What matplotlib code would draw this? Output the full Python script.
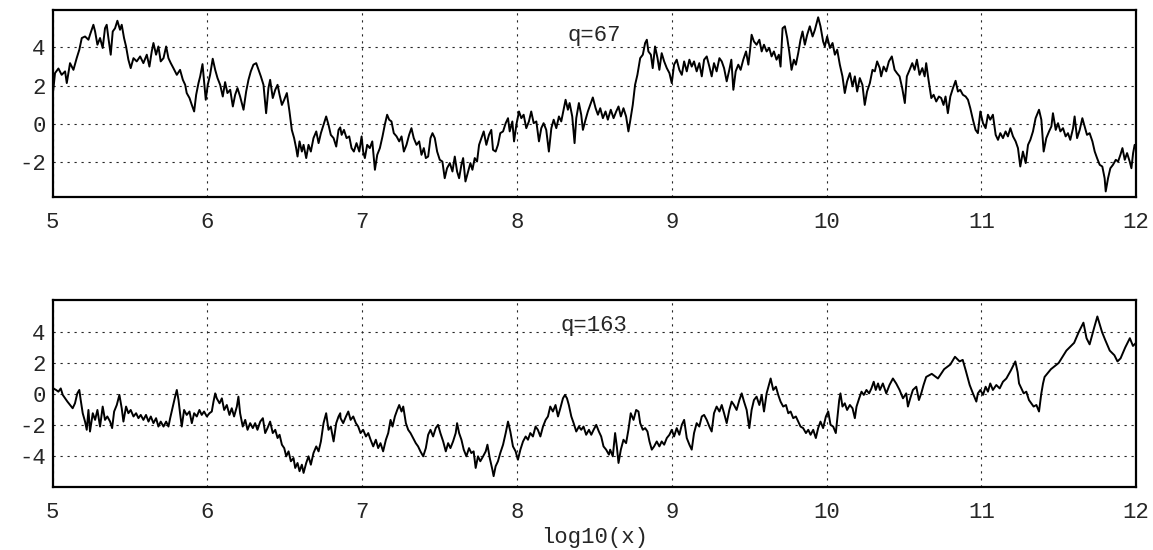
import matplotlib
matplotlib.use("Agg")
import matplotlib.pyplot as plt

# values, x in log10(x), y as plotted
top_x = [
    5.004, 5.015, 5.037, 5.058, 5.080, 5.091, 5.112, 5.134, 5.155, 5.172,
    5.188, 5.209, 5.231, 5.241, 5.263, 5.274, 5.289, 5.306, 5.323, 5.338,
    5.349, 5.360, 5.375, 5.388, 5.403, 5.418, 5.435, 5.446, 5.461, 5.474,
    5.489, 5.504, 5.522, 5.543, 5.565, 5.586, 5.608, 5.625, 5.640, 5.651,
    5.668, 5.683, 5.698, 5.716, 5.733, 5.748, 5.763, 5.780, 5.802, 5.823,
    5.841, 5.856, 5.866, 5.884, 5.899, 5.914, 5.927, 5.942, 5.953, 5.968,
    5.978, 5.989, 6.002, 6.017, 6.034, 6.050, 6.065, 6.082, 6.099, 6.114,
    6.129, 6.147, 6.164, 6.179, 6.194, 6.211, 6.233, 6.250, 6.265, 6.280,
    6.297, 6.315, 6.330, 6.345, 6.362, 6.379, 6.394, 6.405, 6.422, 6.438,
    6.453, 6.466, 6.481, 6.496, 6.513, 6.530, 6.545, 6.560, 6.573, 6.582,
    6.595, 6.610, 6.621, 6.638, 6.653, 6.668, 6.685, 6.703, 6.718, 6.733,
    6.750, 6.767, 6.782, 6.797, 6.815, 6.832, 6.847, 6.858,
    6.867, 6.882, 6.899, 6.916, 6.931, 6.946, 6.963, 6.981, 6.996, 7.006,
    7.017, 7.032, 7.049, 7.065, 7.082, 7.097, 7.114, 7.131, 7.146, 7.161,
    7.174, 7.189, 7.204, 7.222, 7.239, 7.254, 7.269, 7.286, 7.303, 7.318,
    7.333, 7.351, 7.368, 7.383, 7.398, 7.411, 7.426, 7.441, 7.454, 7.469,
    7.484, 7.501, 7.518, 7.533, 7.548, 7.566, 7.583, 7.598, 7.613, 7.626,
    7.641, 7.652, 7.667, 7.684, 7.699, 7.712, 7.727, 7.742, 7.755, 7.770,
    7.785, 7.802, 7.819, 7.834, 7.845, 7.862, 7.877, 7.892, 7.910, 7.927,
    7.942, 7.953, 7.970, 7.981, 7.996, 8.013, 8.028, 8.043, 8.060, 8.077,
    8.092, 8.108, 8.125, 8.142, 8.157, 8.172, 8.189, 8.206, 8.222, 8.237,
    8.254, 8.271, 8.286, 8.303, 8.314, 8.329, 8.340, 8.357, 8.372, 8.383,
    8.400, 8.415, 8.426, 8.443, 8.458, 8.473, 8.490, 8.508, 8.523, 8.538,
    8.555, 8.572, 8.587,
    8.606, 8.624, 8.641, 8.656, 8.671, 8.688, 8.705, 8.720, 8.731, 8.748,
    8.763, 8.778, 8.796, 8.813, 8.828, 8.839, 8.849, 8.865, 8.877, 8.892,
    8.908, 8.920, 8.935, 8.951, 8.968, 8.985, 9.000, 9.015, 9.032, 9.049,
    9.065, 9.080, 9.097, 9.114, 9.129, 9.144, 9.161, 9.178, 9.194, 9.209,
    9.226, 9.243, 9.258, 9.273, 9.290, 9.308, 9.323, 9.338, 9.355, 9.372,
    9.385, 9.398, 9.413, 9.430, 9.445, 9.462, 9.480, 9.495, 9.505, 9.516,
    9.531, 9.548, 9.566, 9.581, 9.596, 9.613, 9.630, 9.645, 9.660, 9.677,
    9.692, 9.703, 9.716, 9.731, 9.746, 9.759, 9.774, 9.789, 9.802, 9.817,
    9.832, 9.845, 9.860, 9.875, 9.892, 9.910, 9.925, 9.946, 9.961, 9.978,
    9.989, 10.004, 10.022, 10.039, 10.054, 10.069, 10.086, 10.103, 10.118, 10.133,
    10.151, 10.168, 10.183, 10.198, 10.215, 10.232, 10.247, 10.262, 10.280, 10.297,
    10.312, 10.327, 10.344,
    10.353, 10.369, 10.386, 10.403, 10.422, 10.440, 10.455, 10.472, 10.489, 10.506,
    10.519, 10.537, 10.554, 10.569, 10.584, 10.601, 10.619, 10.634, 10.644, 10.659,
    10.677, 10.692, 10.709, 10.726, 10.741, 10.756, 10.769, 10.784, 10.800, 10.817,
    10.834, 10.849, 10.864, 10.881, 10.899, 10.914, 10.929, 10.946, 10.963, 10.978,
    10.994, 11.011, 11.028, 11.043, 11.058, 11.075, 11.093, 11.108, 11.123, 11.140,
    11.157, 11.172, 11.188, 11.205, 11.222, 11.237, 11.252, 11.269, 11.287, 11.302,
    11.317, 11.334, 11.351, 11.373, 11.388, 11.403, 11.420, 11.438, 11.453, 11.463,
    11.481, 11.496, 11.511, 11.528, 11.545, 11.560, 11.575, 11.593, 11.603, 11.619,
    11.636, 11.653, 11.668, 11.683, 11.700, 11.718, 11.733, 11.748, 11.765, 11.782,
    11.797, 11.804, 11.819, 11.834, 11.851, 11.869, 11.884, 11.899, 11.912, 11.927,
    11.942, 11.959, 11.970, 11.981, 11.991, 11.998,
]
top_y = [
    1.80, 2.66, 2.90, 2.57, 2.75, 2.14, 3.18, 2.83, 3.44, 3.88,
    4.49, 4.57, 4.40, 4.66, 5.18, 4.83, 4.14, 4.49, 3.97, 5.00,
    5.18, 4.49, 3.62, 4.83, 5.00, 5.39, 4.92, 5.18, 4.49, 4.05,
    3.36, 2.92, 3.44, 3.27, 3.53, 3.18, 3.62, 3.00, 3.79, 4.23,
    3.62, 4.05, 3.27, 3.44, 4.05, 3.44, 3.18, 2.92, 2.57, 2.83,
    2.31, 2.05, 1.62, 1.36, 1.00, 0.66, 1.53, 2.14, 2.49, 3.13,
    2.23, 1.27, 2.05, 2.57, 3.41, 2.83, 2.40, 2.05, 1.44, 2.19,
    1.62, 1.79, 0.92, 1.53, 1.88, 1.44, 0.75, 1.70, 2.31, 2.75,
    3.10, 3.18, 2.83, 2.49, 2.05, 0.57, 1.88, 2.31, 1.36, 1.79,
    2.05, 1.53, 1.00, 1.27, 1.62, 0.66, -0.30, -0.73, -1.25, -1.69,
    -0.90, -1.43, -1.08, -1.77, -1.08, -1.43, -0.73, -0.38, -0.99, -0.47,
    -0.03, 0.40, -0.03, -0.56, -0.73, -1.17, -0.30, -0.17,
    -0.56, -0.30, -0.73, -0.64, -1.25, -1.43, -0.99, -1.43, -0.64, -1.43,
    -1.77, -1.08, -1.25, -0.90, -2.38, -1.60, -1.25, -0.64, -0.03, 0.49,
    0.23, 0.14, -0.47, -0.64, -0.90, -0.64, -1.43, -1.08, -0.56, -0.21,
    -0.73, -1.08, -0.90, -1.60, -1.25, -1.77, -1.69, -0.73, -0.47, -0.73,
    -1.43, -1.86, -1.95, -2.82, -2.30, -2.03, -2.47, -1.69, -2.47, -2.82,
    -2.12, -1.77, -2.99, -2.47, -2.03, -2.38, -1.77, -1.95, -1.08, -0.73,
    -0.38, -1.08, -0.56, -0.30, -1.34, -1.43, -1.08, -0.47, -0.38, 0.05,
    0.31, -0.38, 0.14, -0.90, -0.03, 0.66, 0.31, 0.49, -0.21, 0.14,
    0.66, 0.05, 0.14, -0.90, -0.21, 0.05, -0.30, -1.43, -0.21, 0.23,
    -0.21, 0.40, 0.14, 0.83, 1.27, 0.75, 1.10, 0.40, -0.99, 0.31,
    1.10, 0.49, -0.30, 0.23, 0.66, 1.00, 1.39, 0.83, 0.49, 0.83,
    0.31, 0.66, 0.23,
    0.75, 0.31, 0.66, 0.92, 0.40, 0.83, 0.40, -0.38, 0.14, 1.00,
    2.05, 2.57, 3.44, 3.62, 4.23, 4.40, 3.79, 3.62, 2.92, 4.05,
    3.44, 2.83, 3.70, 3.27, 2.92, 2.66, 2.14, 3.10, 3.36, 2.83,
    2.57, 3.27, 2.75, 3.36, 3.00, 3.27, 2.75, 3.18, 2.49, 3.36,
    3.53, 3.00, 2.49, 3.18, 2.75, 3.44, 3.27, 2.92, 2.23, 2.83,
    3.36, 1.79, 2.75, 3.10, 2.83, 3.36, 3.79, 3.10, 3.79, 4.66,
    4.31, 4.14, 4.40, 3.79, 4.14, 3.79, 3.97, 3.53, 3.79, 3.36,
    3.62, 3.00, 5.00, 5.10, 4.49, 3.79, 2.83, 3.36, 3.10, 3.70,
    4.40, 4.83, 4.14, 4.66, 5.10, 4.57, 4.92, 5.57, 5.10, 4.31,
    4.05, 4.57, 3.97, 4.23, 3.62, 3.88, 3.10, 2.49, 1.62, 2.23,
    2.66, 1.97, 2.49, 1.70, 2.40, 2.05, 1.00, 1.70, 2.14, 2.83,
    2.75, 3.27, 2.92,
    2.49, 3.00, 2.75, 3.27, 3.53, 2.83, 2.66, 2.49, 1.88, 1.10,
    2.49, 2.83, 3.18, 2.83, 3.36, 2.57, 2.92, 2.49, 3.18, 2.31,
    1.36, 1.53, 1.18, 1.44, 1.36, 1.00, 1.44, 0.57, 1.44, 1.88,
    2.26, 1.70, 1.79, 1.53, 1.44, 1.27, 0.83, 0.23, -0.30, -0.47,
    0.66, 0.05, -0.21, 0.49, 0.23, 0.49, -0.56, -0.82, -0.47, -0.73,
    -0.38, -0.64, -0.21, -0.64, -0.90, -1.25, -2.21, -1.43, -2.03, -1.08,
    -0.82, -0.38, 0.31, 0.75, 0.23, -1.43, -0.73, -0.38, -0.12, 0.57,
    -0.30, 0.05, -0.38, -0.21, -0.64, -0.47, -0.82, -0.21, 0.40, -0.73,
    -0.30, 0.31, -0.12, -0.56, -0.47, -0.90, -1.43, -1.77, -2.12, -2.21,
    -2.82, -3.51, -2.82, -2.30, -2.12, -1.86, -1.95, -1.60, -1.25, -1.86,
    -1.51, -1.95, -2.30, -1.51, -1.08, -1.17,
]

bottom_x = [
    5.004, 5.022, 5.037, 5.052, 5.065, 5.080, 5.095, 5.112, 5.129, 5.144,
    5.159, 5.172, 5.181, 5.194, 5.209, 5.220, 5.231, 5.241, 5.259, 5.274,
    5.289, 5.306, 5.323, 5.338, 5.353, 5.371, 5.384, 5.397, 5.414, 5.431,
    5.446, 5.457, 5.474, 5.489, 5.504, 5.522, 5.539, 5.554, 5.569, 5.586,
    5.603, 5.619, 5.634, 5.651, 5.668, 5.683, 5.698, 5.716, 5.733, 5.748,
    5.759, 5.776, 5.791, 5.802, 5.813, 5.823, 5.834, 5.849, 5.866, 5.884,
    5.899, 5.914, 5.931, 5.948, 5.963, 5.978, 5.996, 6.013, 6.028, 6.039,
    6.050, 6.060, 6.078, 6.093, 6.108, 6.125, 6.142, 6.157, 6.172, 6.190,
    6.200, 6.211, 6.228, 6.244, 6.259, 6.276, 6.293, 6.308, 6.323, 6.341,
    6.358, 6.373, 6.388, 6.405, 6.422, 6.438, 6.453, 6.466, 6.481, 6.496,
    6.509, 6.524, 6.539, 6.556, 6.567, 6.582, 6.595, 6.610, 6.621, 6.638,
    6.653, 6.668, 6.685, 6.703, 6.718, 6.733, 6.750, 6.767, 6.782, 6.797,
    6.815, 6.832, 6.847, 6.858,
    6.860, 6.877, 6.895, 6.910, 6.925, 6.942, 6.959, 6.974, 6.989, 7.006,
    7.024, 7.039, 7.054, 7.071, 7.088, 7.103, 7.118, 7.135, 7.153, 7.168,
    7.183, 7.196, 7.211, 7.226, 7.239, 7.254, 7.265, 7.282, 7.297, 7.312,
    7.329, 7.346, 7.361, 7.376, 7.394, 7.411, 7.426, 7.441, 7.458, 7.475,
    7.490, 7.505, 7.523, 7.540, 7.555, 7.570, 7.587, 7.604, 7.613, 7.626,
    7.641, 7.656, 7.673, 7.690, 7.705, 7.720, 7.733, 7.748, 7.763, 7.781,
    7.798, 7.809, 7.824, 7.841, 7.849, 7.862, 7.877, 7.892, 7.910, 7.927,
    7.942, 7.957, 7.974, 7.991, 8.006, 8.022, 8.039, 8.056, 8.071, 8.086,
    8.103, 8.120, 8.135, 8.151, 8.168, 8.185, 8.200, 8.215, 8.232, 8.249,
    8.265, 8.280, 8.297, 8.310, 8.323, 8.335, 8.351, 8.366, 8.383, 8.400,
    8.415, 8.430, 8.447, 8.465, 8.480, 8.495, 8.512, 8.529, 8.544, 8.559,
    8.576, 8.594,
    8.602, 8.619, 8.634, 8.645, 8.656, 8.671, 8.688, 8.705, 8.720, 8.735,
    8.753, 8.770, 8.785, 8.796, 8.813, 8.828, 8.843, 8.856, 8.871, 8.886,
    8.903, 8.920, 8.935, 8.951, 8.968, 8.985, 9.000, 9.015, 9.032, 9.049,
    9.065, 9.080, 9.097, 9.114, 9.129, 9.144, 9.161, 9.178, 9.194, 9.209,
    9.226, 9.243, 9.258, 9.273, 9.290, 9.308, 9.323, 9.338, 9.355, 9.372,
    9.387, 9.402, 9.419, 9.437, 9.452, 9.467, 9.484, 9.501, 9.516, 9.531,
    9.548, 9.566, 9.581, 9.596, 9.613, 9.630, 9.639, 9.656, 9.673, 9.688,
    9.703, 9.720, 9.738, 9.753, 9.768, 9.785, 9.802, 9.817, 9.832, 9.849,
    9.867, 9.882, 9.897, 9.914, 9.931, 9.946, 9.961, 9.978, 9.996, 10.011,
    10.026, 10.043, 10.060, 10.069, 10.082, 10.090, 10.103, 10.118, 10.133, 10.151,
    10.168, 10.183, 10.194, 10.211, 10.226, 10.241, 10.258, 10.275, 10.290, 10.305,
    10.318, 10.333,
    10.345, 10.364, 10.386, 10.407, 10.429, 10.450, 10.472, 10.494, 10.515, 10.526,
    10.541, 10.558, 10.580, 10.597, 10.612, 10.627, 10.644,
    10.680, 10.720, 10.760, 10.800, 10.830, 10.860, 10.880, 10.900,
    10.925, 10.946, 10.968, 10.978, 10.994, 11.011, 11.028, 11.043, 11.058, 11.075,
    11.097, 11.119, 11.140, 11.162,
    11.190, 11.220, 11.235,
    11.244, 11.259, 11.274, 11.291, 11.308, 11.323, 11.338, 11.356, 11.373, 11.388,
    11.399, 11.409,
    11.450, 11.500, 11.550, 11.600, 11.630, 11.660, 11.680, 11.700, 11.730, 11.750,
    11.780, 11.800, 11.830, 11.860, 11.880, 11.900, 11.930, 11.960, 11.980, 12.000,
]
bottom_y = [
    0.36, 0.26, 0.15, 0.36, -0.06, -0.28, -0.49, -0.71, -0.92, -0.60,
    0.04, 0.26, -0.39, -1.24, -1.78, -2.31, -1.03, -2.42, -1.24, -1.67,
    -1.03, -2.10, -0.81, -1.67, -1.45, -1.78, -2.20, -1.13, -0.71, -0.06,
    -0.92, -1.78, -0.81, -1.24, -1.03, -1.45, -1.24, -1.56, -1.35, -1.67,
    -1.35, -1.78, -1.45, -1.88, -1.56, -2.10, -1.78, -2.10, -1.78, -2.10,
    -1.56, -0.81, -0.17, 0.26, -0.39, -1.24, -2.10, -1.03, -1.35, -1.13,
    -1.88, -1.24, -1.45, -1.03, -1.35, -1.13, -1.45, -1.24, -1.13, -0.49,
    0.04, -0.28, -0.60, -0.28, -1.03, -0.71, -1.35, -0.92, -1.45, -0.81,
    -0.17, -1.24, -2.10, -1.67, -2.31, -1.88, -2.20, -1.88, -2.31, -1.78,
    -1.56, -2.52, -2.20, -1.78, -2.52, -2.31, -2.84, -2.63, -3.27, -3.49,
    -4.02, -3.70, -4.34, -4.13, -4.77, -4.45, -4.98, -4.56, -5.09, -4.45,
    -4.02, -4.56, -3.81, -3.38, -3.70, -3.06, -1.88, -1.24, -2.31, -2.10,
    -3.06, -1.88, -1.45, -1.24,
    -1.56, -1.88, -1.45, -1.13, -1.67, -1.45, -1.88, -2.10, -2.52, -2.31,
    -2.74, -2.52, -2.95, -3.38, -2.95, -3.49, -3.17, -3.70, -2.95, -2.52,
    -1.67, -2.10, -1.45, -1.03, -0.71, -1.13, -0.81, -1.88, -2.31, -2.52,
    -2.84, -3.17, -3.38, -3.70, -4.02, -3.49, -2.63, -2.31, -2.74, -2.20,
    -1.99, -2.52, -3.06, -3.70, -3.17, -3.49, -3.06, -2.52, -1.88, -2.52,
    -2.95, -3.59, -4.02, -3.49, -3.81, -3.70, -4.77, -4.02, -4.34, -4.02,
    -3.70, -3.27, -4.13, -4.88, -5.30, -4.66, -4.34, -3.81, -3.27, -2.52,
    -1.78, -2.42, -3.38, -3.70, -4.24, -3.59, -3.06, -2.74, -2.95, -2.52,
    -2.74, -2.10, -2.31, -2.74, -2.10, -1.67, -1.45, -0.81, -1.13, -0.71,
    -1.45, -0.92, -0.28, -0.06, -0.28, -0.71, -1.45, -1.88, -2.42, -2.10,
    -2.31, -2.10, -2.63, -2.31, -2.63, -2.31, -1.99, -2.42, -2.74, -3.38,
    -3.59, -3.91,
    -3.59, -4.02, -2.52, -3.38, -4.45, -3.59, -2.95, -3.17, -2.31, -1.24,
    -1.67, -1.03, -1.13, -1.88, -2.31, -2.20, -2.42, -3.06, -3.59, -3.38,
    -3.06, -3.38, -3.06, -3.27, -2.84, -2.63, -2.31, -2.74, -2.20, -2.63,
    -1.99, -1.67, -2.84, -3.27, -3.59, -2.52, -1.88, -2.10, -1.45, -1.35,
    -1.67, -2.10, -2.42, -1.24, -0.81, -1.13, -0.71, -1.24, -1.88, -1.03,
    -0.49, -0.71, -1.03, -0.39, 0.04, -0.49, -1.03, -2.20, -1.03, -0.39,
    -0.17, -0.71, -0.06, -1.13, 0.04, 0.68, 1.00, 0.26, 0.47, -0.06,
    -0.49, -0.81, -0.71, -1.24, -1.13, -1.56, -1.45, -1.78, -2.10, -2.20,
    -2.52, -2.31, -2.63, -2.31, -2.84, -2.20, -1.78, -2.20, -1.45, -1.13,
    -1.99, -2.10, -2.52, -1.67, -0.39, 0.04, -0.81, -0.60, -1.03, -0.71,
    -0.92, -1.56, -0.81, -0.28, 0.15, -0.06, 0.26, 0.04, 0.36, 0.79,
    0.26, 0.68,
    0.26, 0.68, 0.04, 0.58, 1.00, 0.68, 0.26, -0.28, 0.04, -0.81,
    -0.28, 0.26, 0.47, -0.39, 0.04, 0.58, 1.10,
    1.30, 1.00, 1.60, 1.90, 2.40, 2.10, 2.20, 1.50,
    0.58, 0.04, -0.49, 0.04, 0.26, -0.06, 0.47, 0.15, 0.68, 0.26,
    0.58, 0.36, 0.79, 1.00,
    1.50, 2.10, 1.40,
    0.68, 0.36, 0.04, 0.15, -0.39, -0.60, -0.81, -0.71, -1.13, 0.04,
    0.68, 1.10,
    1.60, 2.00, 2.80, 3.30, 4.00, 4.60, 3.60, 3.20, 4.30, 5.00,
    4.00, 3.50, 2.80, 2.50, 2.10, 2.30, 3.00, 3.60, 3.10, 3.30,
]

panels = [
    (top_x, top_y, "q=67", [-2, 0, 2, 4], (-3.8, 5.95)),
    (bottom_x, bottom_y, "q=163", [-4, -2, 0, 2, 4], (-6.0, 6.06)),
]
x_ticks = [5, 6, 7, 8, 9, 10, 11, 12]

plt.rcParams["font.family"] = ["Liberation Mono", "DejaVu Sans Mono"]
plt.rcParams["font.size"] = 16
plt.rcParams["axes.unicode_minus"] = False

fig = plt.figure(figsize=(11.53, 5.5), dpi=100)
rects = [[0.0457, 0.6418, 0.9396, 0.34], [0.0457, 0.1145, 0.9396, 0.34]]

for rect, (xs, ys, label, yt, ylim) in zip(rects, panels):
    ax = fig.add_axes(rect)
    ax.plot(xs, ys, color="black", lw=1.4)
    ax.set_xlim(5, 12)
    ax.set_ylim(*ylim)
    ax.set_xticks(x_ticks)
    ax.set_yticks(yt)
    ax.grid(True, color="0.15", lw=0.8, linestyle=(0, (2, 4.3)))
    ax.tick_params(length=0, labelcolor="0.15")
    ax.tick_params(axis="x", pad=11)
    ax.tick_params(axis="y", pad=5)
    for s in ax.spines.values():
        s.set_linewidth(1.6)
        s.set_color("black")
    ax.text(0.5, 0.866, label, transform=ax.transAxes, ha="center", va="center",
            color="0.15")

ax.set_xlabel("log10(x)", labelpad=3, color="0.15")

fig.savefig("out.png", dpi=100)
